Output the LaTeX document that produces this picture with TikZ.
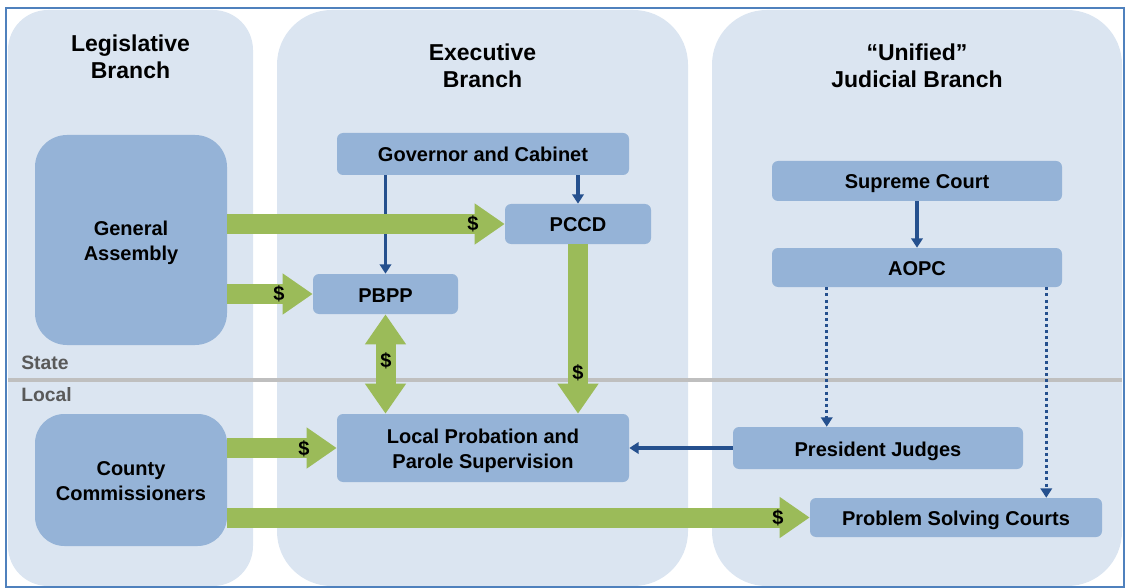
\documentclass[tikz,border=0pt]{standalone}
\usepackage{fontspec}
\setmainfont{Liberation Sans}
\usetikzlibrary{arrows.meta,calc}
\definecolor{panel}{HTML}{DBE5F1}
\definecolor{boxblue}{HTML}{95B3D7}
\definecolor{moneygreen}{HTML}{9BBB59}
\definecolor{ctlblue}{HTML}{25508E}
\definecolor{framblue}{HTML}{4F81BD}
\definecolor{divgray}{HTML}{BFBFBF}
\definecolor{lblgray}{HTML}{595959}
\newcommand\nodefont{\fontsize{15}{18.5}\selectfont\bfseries}
\newcommand\titlefont{\fontsize{17.25}{20.25}\selectfont\bfseries}
\tikzset{
  panelbox/.style={fill=panel, draw=none},
  box/.style={fill=boxblue, draw=none, rounded corners=4.5pt, inner sep=0pt, font=\nodefont, align=center, text height=14.5pt, text depth=2.5pt},
  twoline/.style={text height=33pt, text depth=2.5pt},
  bigbox/.style={box, twoline, rounded corners=24pt},
  ctl/.style={draw=ctlblue, line width=2.3pt, -{Triangle[width=8.5pt,length=7pt]}},
  dotctl/.style={ctl, dash pattern=on 2.3pt off 2.3pt},
  money/.style={draw=moneygreen, line width=15pt, -{Triangle[width=29.25pt,length=22.5pt]}},
  moneytwo/.style={draw=moneygreen, line width=15pt, {Triangle[width=29.25pt,length=22.5pt]}-{Triangle[width=29.25pt,length=22.5pt]}},
  dollar/.style={font=\nodefont, inner sep=0pt},
  titletext/.style={font=\titlefont, align=center, inner sep=0pt},
  levellabel/.style={font=\fontsize{14.5}{17}\selectfont\bfseries, text=lblgray, anchor=west, inner sep=0pt}
}
\begin{document}
\begin{tikzpicture}[x=0.75pt, y=-0.75pt]
\useasboundingbox (0,0) rectangle (1128,588);
% panels
\fill[panelbox, rounded corners=30pt] (8,10) rectangle (253,586);
\fill[panelbox, rounded corners=41pt] (277,10) rectangle (688,586);
\fill[panelbox, rounded corners=41pt] (712,10) rectangle (1122,586);
% frame
\draw[framblue, line width=1.5pt] (6,8) rectangle (1124,587);
% divider
\draw[divgray, line width=3pt] (8,379.5) -- (1122,379.5);
\node[levellabel] (state) at (21,363) {State};
\node[levellabel] (local) at (21,395) {Local};
% titles
\node[titletext] (tleg) at (130.5,57) {Legislative\\Branch};
\node[titletext] (texe) at (482.5,65.5) {Executive\\Branch};
\node[titletext] (tjud) at (917,65.5) {“Unified”\\Judicial Branch};
% boxes
\node[bigbox, minimum width=144pt, minimum height=157.5pt] (ga) at (131,240) {General\\Assembly};
\node[bigbox, rounded corners=22pt, minimum width=144pt, minimum height=99pt] (cc) at (131,480) {County\\Commissioners};
\node[box, minimum width=219pt, minimum height=31.5pt] (gov) at (483,154) {Governor and Cabinet};
\node[box, minimum width=109.5pt, minimum height=30pt] (pccd) at (578,224) {PCCD};
\node[box, minimum width=108.75pt, minimum height=30pt] (pbpp) at (385.5,294) {PBPP};
\node[box, twoline, minimum width=219pt, minimum height=51pt] (lpp) at (483,448) {Local Probation and\\Parole Supervision};
\node[box, minimum width=217.5pt, minimum height=30pt] (sc) at (917,181) {Supreme Court};
\node[box, minimum width=217.5pt, minimum height=29.25pt] (aopc) at (917,267.5) {AOPC};
\node[box, minimum width=217.5pt, minimum height=31.5pt] (pj) at (878,448) {President Judges};
\node[box, minimum width=219pt, minimum height=29.25pt] (psc) at (956,517.5) {Problem Solving Courts};
% control connectors
\draw[ctl] (pbpp.north |- gov.south) -- (pbpp.north);
\draw[ctl] (pccd.north |- gov.south) -- (pccd.north);
\draw[ctl] (sc.south) -- (aopc.north);
\draw[ctl] (pj.west) -- (lpp.east);
\draw[dotctl] ([xshift=41.25pt]aopc.south west) -- ([xshift=41.25pt]aopc.south west |- pj.north);
\draw[dotctl] ([xshift=-12pt]aopc.south east) -- ([xshift=-12pt]aopc.south east |- psc.north);
% money flows
\draw[money] (ga.east |- pccd.west) -- (pccd.west);
\draw[money] (ga.east |- pbpp.west) -- (pbpp.west);
\draw[moneytwo] (pbpp.south) -- (pbpp.south |- lpp.north);
\draw[money] (pccd.south) -- (pccd.south |- lpp.north);
\draw[money] (cc.east |- lpp.west) -- (lpp.west);
\draw[money] (cc.east |- psc.west) -- (psc.west);
% dollar labels
\node[dollar] (d1) at (473,224) {\$};
\node[dollar] (d2) at (279,294) {\$};
\node[dollar] (d3) at (386,361) {\$};
\node[dollar] (d4) at (578,373) {\$};
\node[dollar] (d5) at (304,449) {\$};
\node[dollar] (d6) at (778,518) {\$};
\end{tikzpicture}
\end{document}
